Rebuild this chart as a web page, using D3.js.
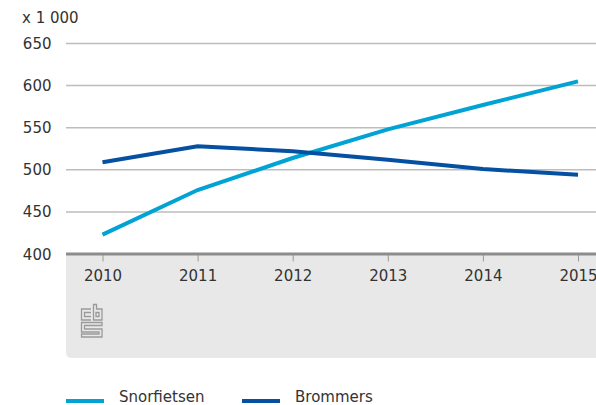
<!DOCTYPE html>
<html>
<head>
<meta charset="utf-8">
<script src="https://cdn.jsdelivr.net/npm/d3@7"></script>
<style>
  body { margin: 0; background: #fff; }
  svg { display: block; font-family: "DejaVu Sans", sans-serif; }
</style>
</head>
<body>
<div id="chart"></div>
<script>
// data (x 1 000)
const years = [2010, 2011, 2012, 2013, 2014, 2015]
const snorfietsen = [423, 476, 514, 548, 577, 605]
const brommers = [509, 528, 522, 512, 501, 494]
const yTicks = [400, 450, 500, 550, 600, 650]
const seriesNames = ["Snorfietsen", "Brommers"]
const seriesColors = ["#00a3d4", "#0550a0"]

const width = 596, height = 405
const svg = d3.select("#chart").append("svg")
    .attr("width", width)
    .attr("height", height)

const x = d3.scaleLinear().domain([2010, 2015]).range([102.5, 578])
const y = d3.scaleLinear().domain([400, 650]).range([254, 43.5])

const plotLeft = 66

// grey footer panel under the axis
svg.append("path")
    .attr("d", `M${plotLeft},255 H${width + 10} V358 H${plotLeft + 6} Q${plotLeft},358 ${plotLeft},352 Z`)
    .attr("fill", "#e8e8e8")

// horizontal gridlines + y labels
svg.append("g")
    .selectAll("line")
    .data(yTicks.filter(t => t > 400))
    .enter()
    .append("line")
    .attr("x1", plotLeft)
    .attr("x2", width)
    .attr("y1", d => y(d))
    .attr("y2", d => y(d))
    .attr("stroke", "#bdbdbd")
    .attr("stroke-width", 1.5)

svg.append("g")
    .selectAll("text")
    .data(yTicks)
    .enter()
    .append("text")
    .attr("x", 51.5)
    .attr("y", d => y(d) + 5.5)
    .attr("text-anchor", "end")
    .attr("font-size", 15)
    .attr("fill", "#333")
    .text(d => d)

svg.append("text")
    .attr("x", 22)
    .attr("y", 23)
    .attr("font-size", 15)
    .attr("fill", "#333")
    .text("x 1 000")

// x axis
const xAxis = svg.append("g")
    .attr("transform", `translate(0,${y(400) + 0.5})`)
    .call(d3.axisBottom(x)
        .tickValues(years)
        .tickSize(7)
        .tickPadding(9)
        .tickFormat(d3.format("d")))
xAxis.select(".domain").remove()
xAxis.selectAll(".tick line").attr("stroke", "#999")
xAxis.selectAll(".tick text")
    .attr("font-size", 15)
    .attr("fill", "#333")
    .attr("font-family", "\"DejaVu Sans\", sans-serif")

svg.append("line")
    .attr("x1", plotLeft)
    .attr("x2", width)
    .attr("y1", y(400))
    .attr("y2", y(400))
    .attr("stroke", "#8c8c8c")
    .attr("stroke-width", 3)

// lines
const line = d3.line()
    .x((d, i) => x(years[i]))
    .y(d => y(d))

;[snorfietsen, brommers].forEach((series, k) => {
    svg.append("path")
        .datum(series)
        .attr("d", line)
        .attr("fill", "none")
        .attr("stroke", seriesColors[k])
        .attr("stroke-width", 4)
})

// cbs logo (rough)
const logo = svg.append("g")
    .attr("transform", "translate(81,304)")
    .attr("fill", "none")
    .attr("stroke", "#9a9a9a")
    .attr("stroke-width", 1.3)
logo.append("path").attr("d", "M10,5 H0.5 V16 H10 M10,8.5 H3.5 V12.5 H10")
logo.append("path").attr("d", "M12.5,0.5 H15.5 V5 H21 V16 H12.5 Z M15,8.5 H18 V12.5 H15 Z")
logo.append("path").attr("d", "M0.5,18.5 H21 V21.5 H3.5 V25 H21 V33 H0.5 V30 H18 V28 H0.5 Z")

// legend
const legend = svg.append("g")
const legendX = [66, 242]
seriesNames.forEach((name, k) => {
    legend.append("line")
        .attr("x1", legendX[k])
        .attr("x2", legendX[k] + 38)
        .attr("y1", 401)
        .attr("y2", 401)
        .attr("stroke", seriesColors[k])
        .attr("stroke-width", 4)
    legend.append("text")
        .attr("x", legendX[k] + 53)
        .attr("y", 402)
        .attr("font-size", 15)
        .attr("fill", "#333")
        .text(name)
})
</script>
</body>
</html>
